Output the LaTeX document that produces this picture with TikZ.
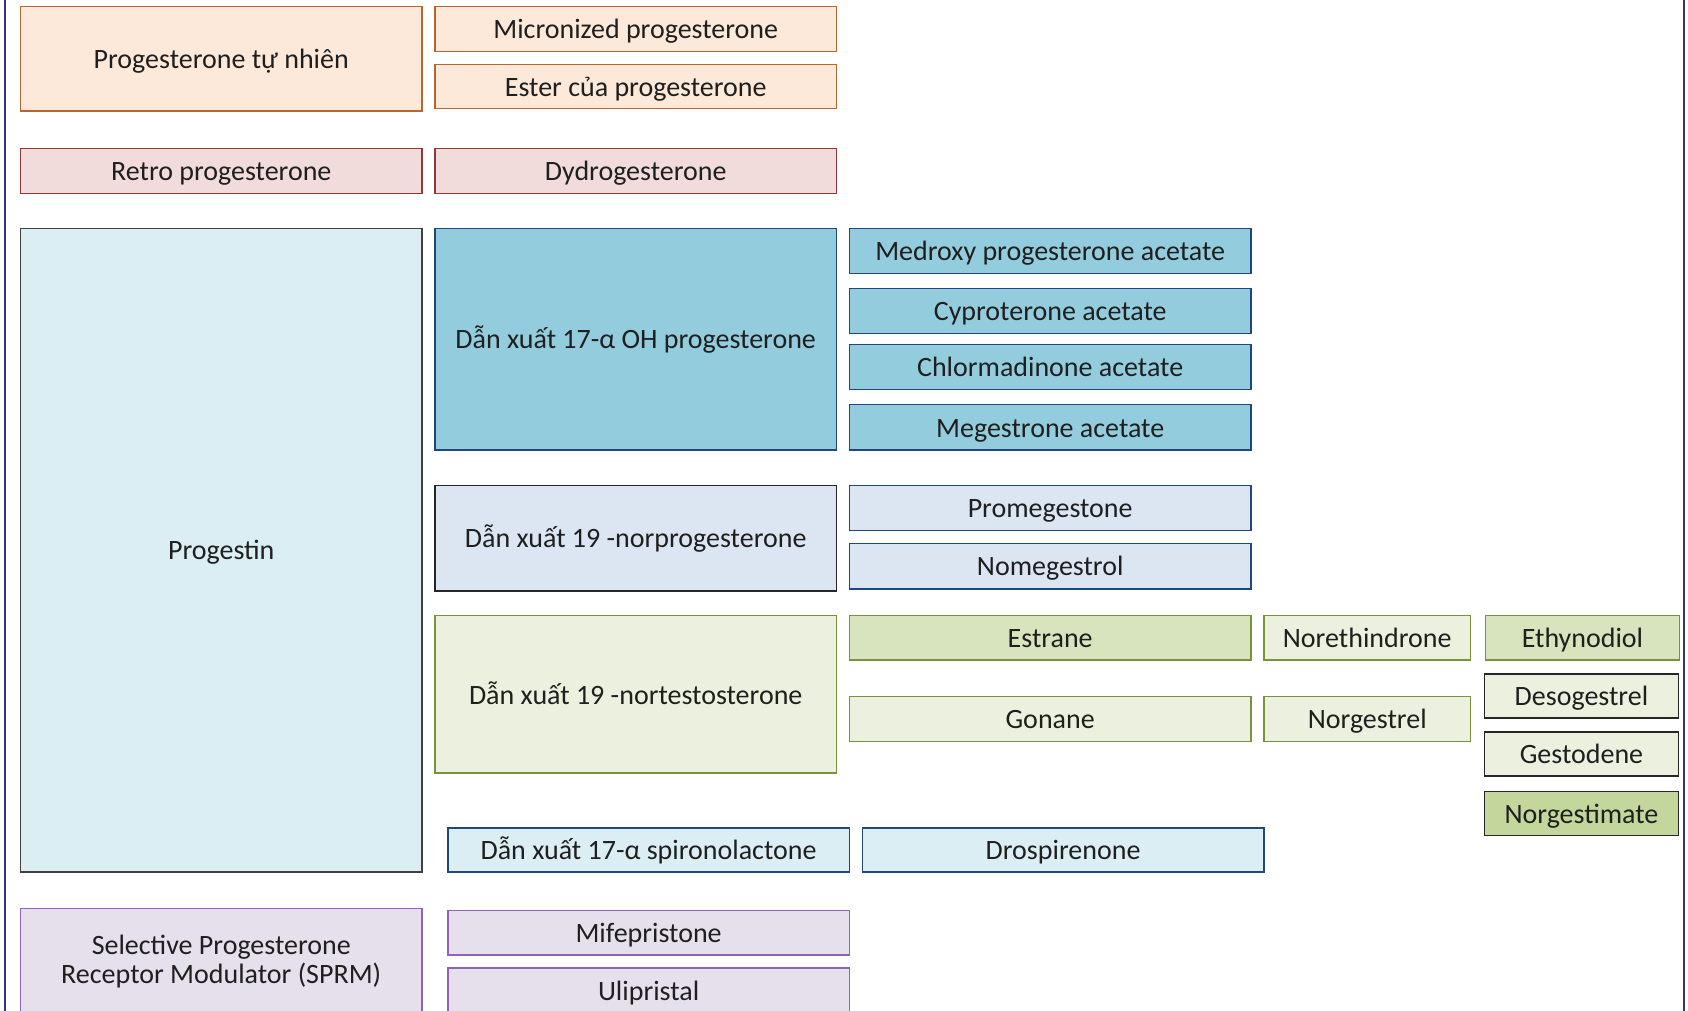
\documentclass[tikz,border=0pt]{standalone}
\usepackage{fontspec}
\setmainfont{Carlito}
\definecolor{peachF}{HTML}{FDE9D9}
\definecolor{peachD}{HTML}{B9652B}
\definecolor{pinkF}{HTML}{F2DCDB}
\definecolor{pinkD}{HTML}{943634}
\definecolor{aquaF}{HTML}{DAEEF3}
\definecolor{aquaMF}{HTML}{93CDDD}
\definecolor{navyD}{HTML}{1F497D}
\definecolor{greyD}{HTML}{404040}
\definecolor{blackD}{HTML}{262626}
\definecolor{slateF}{HTML}{DCE6F2}
\definecolor{oliveF}{HTML}{EBF1DE}
\definecolor{oliveMF}{HTML}{D7E4BD}
\definecolor{oliveDF}{HTML}{C3D69B}
\definecolor{oliveD}{HTML}{77933C}
\definecolor{lilacF}{HTML}{E5E0EC}
\definecolor{lilacD}{HTML}{8E62BE}
\definecolor{frameD}{HTML}{34348A}
\begin{document}
\begin{tikzpicture}[x=1pt,y=-1pt,
  box/.style={draw, line width=1.3pt, inner sep=0pt, align=center, text=black!88,
    font=\fontsize{26}{27}\selectfont, text height=22pt, text depth=4pt},
  wide/.style={minimum width=373pt, minimum height=42pt},
  peach/.style={box, fill=peachF, draw=peachD},
  pinkbox/.style={box, fill=pinkF, draw=pinkD},
  aqua/.style={box, fill=aquaF, draw=navyD},
  aquam/.style={box, fill=aquaMF, draw=navyD},
  slate/.style={box, fill=slateF, draw=navyD},
  olive/.style={box, fill=oliveF, draw=oliveD},
  olivem/.style={box, fill=oliveMF, draw=oliveD},
  lilac/.style={box, fill=lilacF, draw=lilacD},
  frame/.style={draw=frameD, line width=2pt}
]
\useasboundingbox (0,0) rectangle (1568,939);
\clip (0,0) rectangle (1568,939);

% frame lines
\coordinate (fl1) at (5,-10);
\coordinate (fl2) at (5,950);
\coordinate (fr1) at (1564,-10);
\coordinate (fr2) at (1564,950);
\draw[frame] (fl1) -- (fl2);
\draw[frame] (fr1) -- (fr2);

% natural progesterone
\node[peach, minimum width=373pt, minimum height=97pt] (ptn) at (205.5,54.5) {Progesterone tự nhiên};
\node[peach, wide] (micro) at (590.5,27) {Micronized progesterone};
\node[peach, wide, minimum height=41pt] (ester) at (590.5,80.5) {Ester của progesterone};

% retro
\node[pinkbox, wide] (retro) at (205.5,159) {Retro progesterone};
\node[pinkbox, wide] (dydro) at (590.5,159) {Dydrogesterone};

% progestin
\node[box, fill=aquaF, draw=greyD, minimum width=373pt, minimum height=598pt] (progestin) at (205.5,511) {Progestin};

% 17-alpha OH
\node[aquam, minimum width=373pt, minimum height=206pt] (oh17) at (590.5,315) {Dẫn xuất 17-α OH progesterone};
\node[aquam, wide] (medroxy) at (975.5,233) {Medroxy progesterone acetate};
\node[aquam, wide] (cypro) at (975.5,289) {Cyproterone acetate};
\node[aquam, wide] (chlor) at (975.5,341) {Chlormadinone acetate};
\node[aquam, wide] (mege) at (975.5,397) {Megestrone acetate};

% 19-norprogesterone
\node[box, fill=slateF, draw=blackD, minimum width=373pt, minimum height=98pt] (norprog) at (590.5,500) {Dẫn xuất 19 -norprogesterone};
\node[slate, wide] (promeg) at (975.5,472) {Promegestone};
\node[slate, wide] (nomeg) at (975.5,526) {Nomegestrol};

% 19-nortestosterone
\node[olive, minimum width=373pt, minimum height=146pt] (nortesto) at (590.5,645) {Dẫn xuất 19 -nortestosterone};
\node[olivem, wide, minimum height=41pt] (estrane) at (975.5,592.5) {Estrane};
\node[olive, minimum width=192pt, minimum height=41pt] (noreth) at (1270,592.5) {Norethindrone};
\node[olivem, minimum width=180pt, minimum height=41pt] (ethyn) at (1470,592.5) {Ethynodiol};
\node[olive, wide] (gonane) at (975.5,668) {Gonane};
\node[olive, minimum width=192pt, minimum height=42pt] (norgestrel) at (1270,668) {Norgestrel};
\node[box, fill=oliveF, draw=blackD, minimum width=180pt, minimum height=41pt] (deso) at (1469,646.5) {Desogestrel};
\node[box, fill=oliveF, draw=blackD, minimum width=180pt, minimum height=41pt] (gesto) at (1469,700.5) {Gestodene};
\node[box, fill=oliveDF, draw=blackD, minimum width=180pt, minimum height=41pt] (norgestim) at (1469,755.5) {Norgestimate};

% spironolactone
\node[aqua, wide, minimum height=41pt] (spiro) at (602.5,789.5) {Dẫn xuất 17-α spironolactone};
\node[aqua, wide, minimum height=41pt] (drosp) at (987.5,789.5) {Drospirenone};

% SPRM
\node[lilac, minimum width=373pt, minimum height=98pt, text height=, text depth=] (sprm) at (205.5,893) {Selective Progesterone\\Receptor Modulator (SPRM)};
\node[lilac, wide, minimum height=41pt] (mife) at (602.5,866.5) {Mifepristone};
\node[lilac, wide] (ulip) at (602.5,920) {Ulipristal};
\end{tikzpicture}
\end{document}
